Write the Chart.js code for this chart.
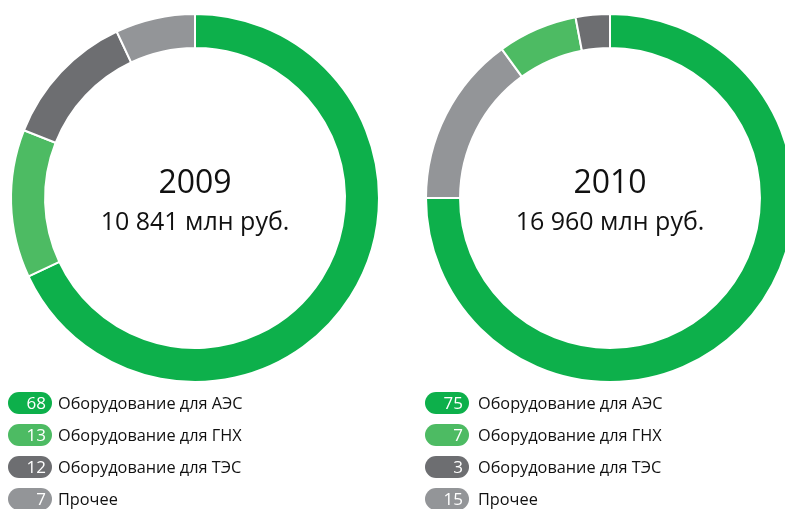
<!DOCTYPE html>
<html>
<head>
<meta charset="utf-8">
<script src="https://cdn.jsdelivr.net/npm/chart.js@4/dist/chart.umd.min.js"></script>
<style>
    body { margin: 0; width: 785px; height: 509px; overflow: hidden; background: #fff; position: relative; font-family: "Open Sans", sans-serif; }
    .ring { position: absolute; top: 3px; width: 390px; height: 390px; }
    .legend { position: absolute; top: 387px; }
    .row { display: flex; align-items: center; height: 32px; }
    .pill { width: 44px; height: 22px; border-radius: 11px; color: #fff; font-size: 17px; text-align: right; padding-right: 6px; box-sizing: border-box; line-height: 22px; margin-right: 6px; }
    .txt { font-size: 16.3px; color: #111; }
    #legend2010 .pill { margin-right: 9px; }
</style>
</head>
<body>
<div class="ring" style="left:0px"><canvas id="chart2009"></canvas></div>
<div class="ring" style="left:415px"><canvas id="chart2010"></canvas></div>
<div class="legend" id="legend2009" style="left:8px"></div>
<div class="legend" id="legend2010" style="left:425px"></div>

<script>
// Data
const categories = ["Оборудование для АЭС", "Оборудование для ГНХ", "Оборудование для ТЭС", "Прочее"];
const colors = ["#0db04b", "#4dbb63", "#6d6e71", "#939598"];
const values2009 = [68, 13, 12, 7];
const values2010 = [75, 7, 3, 15];
// drawing order around the ring (clockwise from top)
const order2009 = [0, 1, 2, 3];
const order2010 = [0, 3, 1, 2];
const totals = { "2009": "10 841 млн руб.", "2010": "16 960 млн руб." };

// Center text plugin
const centerText = {
    id: "centerText",
    afterDraw(chart) {
        const ctx = chart.ctx;
        const arc = chart.getDatasetMeta(0).data[0];
        const x = arc.x, y = arc.y;
        const year = chart.options.plugins.centerText.year;
        ctx.save();
        ctx.fillStyle = "#111";
        ctx.textAlign = "center";
        ctx.textBaseline = "middle";
        ctx.font = "32px 'Open Sans'";
        ctx.fillText(year, x, y - 14);
        ctx.font = "25px 'Open Sans'";
        ctx.fillText(totals[year], x, y + 25);
        ctx.restore();
    }
};

function makeRing(id, year, values, order) {
    new Chart(document.getElementById(id), {
        type: "doughnut",
        data: {
            labels: order.map(i => categories[i]),
            datasets: [{
                data: order.map(i => values[i]),
                backgroundColor: order.map(i => colors[i]),
                borderColor: "#fff",
                borderWidth: 2,
                hoverOffset: 0
            }]
        },
        options: {
            responsive: true,
            maintainAspectRatio: false,
            animation: false,
            radius: 184,
            cutout: "81.5%",
            layout: { padding: 0 },
            plugins: {
                legend: { display: false },
                tooltip: { enabled: false },
                centerText: { year: year }
            }
        },
        plugins: [centerText]
    });
}

function makeLegend(id, values) {
    const box = document.getElementById(id);
    categories.forEach(function (name, i) {
        const row = document.createElement("div");
        row.className = "row";
        row.innerHTML = '<div class="pill" style="background:' + colors[i] + '">' + values[i] + '</div><div class="txt">' + name + '</div>';
        box.appendChild(row);
    });
}

makeRing("chart2009", "2009", values2009, order2009);
makeRing("chart2010", "2010", values2010, order2010);
makeLegend("legend2009", values2009);
makeLegend("legend2010", values2010);
</script>
</body>
</html>
